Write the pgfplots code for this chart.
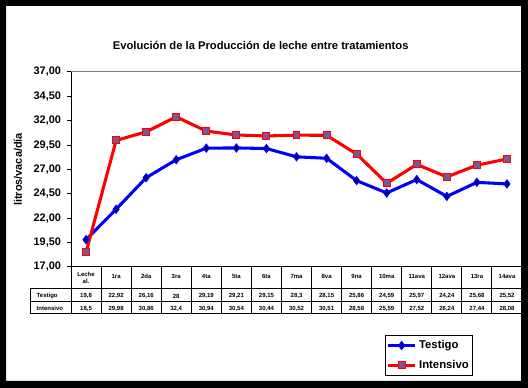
\documentclass[border=0pt]{standalone}
\usepackage{pgfplots}
\pgfplotsset{compat=1.18}
\usepackage{fontspec}
\setmainfont{Liberation Sans}
\definecolor{myblue}{RGB}{0,0,255}
\definecolor{mynavy}{RGB}{0,0,128}
\definecolor{myred}{RGB}{255,0,0}
\definecolor{sqfill}{RGB}{125,85,145}
\begin{document}
\begin{tikzpicture}
\fill[white] (0,0) rectangle (396pt,291pt);
\begin{axis}[
  at={(53.25pt,90.75pt)}, anchor=south west,
  scale only axis, width=338.25pt, height=146.25pt,
  xmin=-0.5, xmax=14.5, ymin=17, ymax=37,
  axis x line*=bottom, axis y line*=left,
  axis line style={black, line width=0.75pt, -},
  xtick=\empty,
  ytick={17,19.5,22,24.5,27,29.5,32,34.5,37},
  yticklabels={{17,00},{19,50},{22,00},{24,50},{27,00},{29,50},{32,00},{34,50},{37,00}},
  tick align=outside, major tick length=3pt,
  every tick/.style={black, line width=0.75pt},
  yticklabel style={font=\fontsize{8.2}{9}\selectfont\bfseries, xshift=-1pt},
  ylabel={litros/vaca/día},
  ylabel style={at={(axis description cs:-0.1175,0.5)}, anchor=center, rotate=0, font=\fontsize{8.2}{9}\selectfont\bfseries},
  clip=false,
  legend style={at={(axis description cs:0.6962,-0.559)}, anchor=south west, draw=black, line width=0.75pt,
    font=\fontsize{8.5}{10}\selectfont\bfseries, inner xsep=1pt, inner ysep=2pt, row sep=3pt},
  legend cell align=left,
  legend image code/.code={\draw[#1, mark repeat=2, mark phase=2] plot coordinates {(0cm,0cm) (0.35cm,0cm) (0.7cm,0cm)};},
]
\addplot[myblue, line width=2.3pt, mark=diamond*, mark size=3pt, mark options={fill=mynavy, draw=myblue, line width=0.75pt}]
coordinates {(0,19.8) (1,22.92) (2,26.16) (3,28) (4,29.19) (5,29.21) (6,29.15) (7,28.3) (8,28.15) (9,25.86) (10,24.59) (11,25.97) (12,24.24) (13,25.68) (14,25.52)};
\addlegendentry{Testigo}
\addplot[myred, line width=2.3pt, mark=square*, mark size=2.6pt, mark options={fill=sqfill, draw=myred, line width=0.75pt}]
coordinates {(0,18.5) (1,29.98) (2,30.86) (3,32.4) (4,30.94) (5,30.54) (6,30.44) (7,30.52) (8,30.51) (9,28.58) (10,25.59) (11,27.52) (12,26.24) (13,27.44) (14,28.08)};
\addlegendentry{Intensivo}
\draw[gray, line width=0.75pt] (rel axis cs:0,1) -- (rel axis cs:1,1);
\end{axis}
\node[font=\fontsize{8.4}{10}\selectfont\bfseries] at (195.5pt,257.25pt) {Evolución de la Producción de leche entre tratamientos};
\begin{scope}[shift={(0,291pt)}, x=0.75pt, y=-0.75pt]
  \draw[line width=0.75pt] (30,289) -- (522,289);
  \draw[line width=0.75pt] (30,302) -- (522,302);
  \draw[line width=0.75pt] (30,314) -- (522,314);
  \draw[line width=0.75pt] (30,289) -- (30,314);
  \foreach \i in {0,...,15} {\draw[line width=0.75pt] (71+30.07*\i,267) -- (71+30.07*\i,314);}
  \node[font=\fontsize{4.5}{5}\selectfont\bfseries, align=center] at (71+30.07*0.5,278) {Leche\\al.};
  \foreach \lab [count=\i from 1] in {1ra,2da,3ra,4ta,5ta,6ta,7ma,8va,9na,10ma,11ava,12ava,13ra,14ava}
    {\node[font=\fontsize{4.5}{5}\selectfont\bfseries] at (71+30.07*\i+15.03,276) {\lab};}
  \node[font=\fontsize{4.5}{5}\selectfont\bfseries, anchor=west] at (32,296) {Testigo};
  \node[font=\fontsize{4.5}{5}\selectfont\bfseries, anchor=west] at (32,308.5) {Intensivo};
  \foreach \v [count=\i from 0] in {{19,8},{22,92},{26,16},{28},{29,19},{29,21},{29,15},{28,3},{28,15},{25,86},{24,59},{25,97},{24,24},{25,68},{25,52}}
    {\node[font=\fontsize{4.5}{5}\selectfont\bfseries] at (71+30.07*\i+15.03,296) {\v};}
  \foreach \v [count=\i from 0] in {{18,5},{29,98},{30,86},{32,4},{30,94},{30,54},{30,44},{30,52},{30,51},{28,58},{25,59},{27,52},{26,24},{27,44},{28,08}}
    {\node[font=\fontsize{4.5}{5}\selectfont\bfseries] at (71+30.07*\i+15.03,308.5) {\v};}
\end{scope}
\fill[black, even odd rule] (0,0) rectangle (396pt,291pt) (4.5pt,5.25pt) rectangle (390.75pt,286.5pt);
\pgfresetboundingbox
\useasboundingbox (0,0) rectangle (396pt,291pt);
\end{tikzpicture}
\end{document}
